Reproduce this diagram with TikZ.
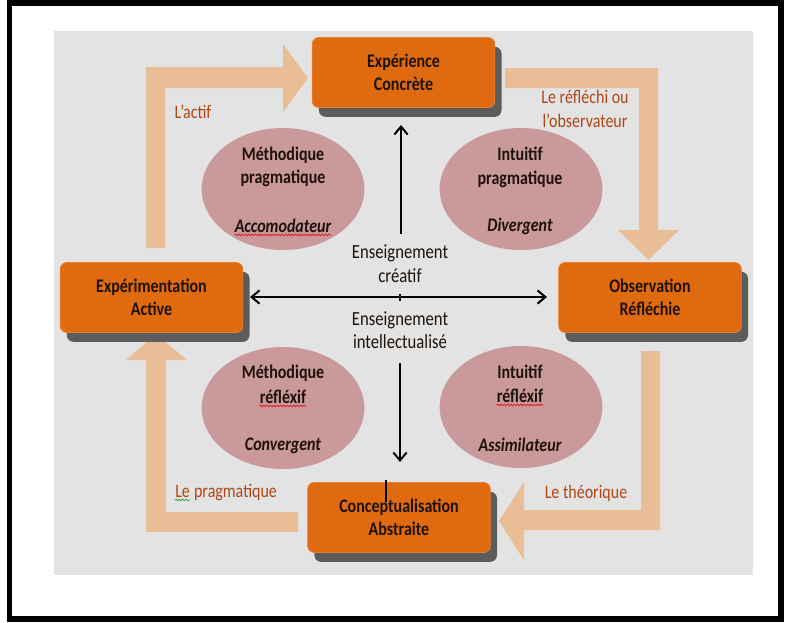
\documentclass[tikz,border=0pt]{standalone}
\usepackage{graphicx}
\usepackage{fontspec}
\setmainfont{Carlito}
\usetikzlibrary{shapes.geometric,arrows.meta,shadows,decorations.pathmorphing}
\definecolor{bggray}{RGB}{227,227,227}
\definecolor{peach}{RGB}{233,189,150}
\definecolor{boxorange}{RGB}{223,106,16}
\definecolor{boxshadow}{RGB}{92,92,92}
\definecolor{ellfill}{RGB}{201,153,155}
\definecolor{lblcol}{RGB}{176,70,20}
\definecolor{txtdark}{RGB}{30,18,10}
\definecolor{wavyr}{RGB}{220,30,30}
\definecolor{wavyg}{RGB}{60,160,60}
\newcommand\vtxt[1]{\scalebox{1}[1.2]{#1}}
\begin{document}
\begin{tikzpicture}[x=0.75pt,y=-0.75pt,
 stagebox/.style={draw=boxorange!85!white, line width=0.6pt, fill=boxorange, rounded corners=5pt,
   minimum width=137pt, minimum height=52.5pt, align=center, inner sep=0pt,
   font=\bfseries\fontsize{12}{17.5}\selectfont, text=txtdark,
   drop shadow={shadow xshift=5pt, shadow yshift=-7pt, fill=boxshadow, opacity=1}},
 styleell/.style={ellipse, fill=ellfill, minimum width=122pt, minimum height=91.5pt, inner sep=0pt},
 etext/.style={font=\bfseries\fontsize{12}{14}\selectfont, text=txtdark, inner sep=0pt, text height=8.5pt, text depth=2.5pt},
 ctext/.style={font=\fontsize{12.5}{14}\selectfont, text=txtdark, inner sep=0pt, text height=8.5pt, text depth=2.5pt},
 lbl/.style={font=\fontsize{12}{14}\selectfont, text=lblcol, inner sep=0pt, text height=8.5pt, text depth=2.5pt},
 blockarrow/.style={fill=peach},
 axisline/.style={line width=1.5pt, draw=black},
 wavyred/.style={draw=wavyr, line width=0.6pt, decorate, decoration={snake, amplitude=0.6pt, segment length=2.5pt}},
 wavygreen/.style={draw=wavyg, line width=0.6pt, decorate, decoration={snake, amplitude=0.6pt, segment length=2.5pt}}
]
\useasboundingbox (0,0) rectangle (791,622);
\fill[white] (0,0) rectangle (791,622);
\fill[bggray] (54,31) rectangle (753,575);

% block arrows
\fill[blockarrow] (146,248) -- (146,67) -- (283,67) -- (283,44) -- (308,78) -- (283,112) -- (283,88) -- (165,88) -- (165,248) -- cycle;
\fill[blockarrow] (505,68) -- (658,68) -- (658,230) -- (679,230) -- (648.5,260) -- (618,230) -- (639,230) -- (639,88) -- (505,88) -- cycle;
\fill[blockarrow] (641,351) -- (660,351) -- (660,530) -- (524,530) -- (524,560) -- (499,521) -- (524,482) -- (524,510) -- (641,510) -- cycle;
\fill[blockarrow] (298,512) -- (298,532) -- (146,532) -- (146,360) -- (126,360) -- (156,334) -- (187,360) -- (166,360) -- (166,512) -- cycle;

% ellipses
\node[styleell] (e1) at (283,189) {};
\node[styleell] (e2) at (521,189) {};
\node[styleell] (e3) at (283,408) {};
\node[styleell] (e4) at (521,407) {};

% stage boxes
\node[stagebox] (ec) at (403.5,72.5) {\vtxt{Expérience}\\\vtxt{Concrète}};
\node[stagebox] (ea) at (151.5,297.5) {\vtxt{Expérimentation}\\\vtxt{Active}};
\node[stagebox] (ob) at (650,297.5) {\vtxt{Observation}\\\vtxt{Réfléchie}};
\node[stagebox] (ca) at (399,517.5) {\vtxt{Conceptualisation}\\\vtxt{Abstraite}};

% axes
\coordinate (hl) at (250,297);
\coordinate (hr) at (547,297);
\coordinate (vt1) at (401,234);
\coordinate (vt2) at (401,125);
\coordinate (vb1) at (400,363);
\coordinate (vb2) at (400,462);
\coordinate (tk1) at (400,294);
\coordinate (tk2) at (400,301);
\coordinate (tb1) at (386,480);
\coordinate (tb2) at (386,502);
\draw[axisline, {Straight Barb[length=6pt,width=10pt]}-{Straight Barb[length=6pt,width=10pt]}] (hl) -- (hr);
\draw[axisline, -{Straight Barb[length=6pt,width=10pt]}] (vt1) -- (vt2);
\draw[axisline, -{Straight Barb[length=6pt,width=10pt]}] (vb1) -- (vb2);
\draw[line width=1pt] (tk1) -- (tk2);
\draw[line width=1.2pt] (tb1) -- (tb2);

% ellipse texts
\node[etext] (t1a) at (283,156) {\vtxt{Méthodique}};
\node[etext] (t1b) at (283,179) {\vtxt{pragmatique}};
\node[etext] (t1c) at (283,228) {\vtxt{\itshape Accomodateur}};
\node[etext] (t2a) at (520,156) {\vtxt{Intuitif}};
\node[etext] (t2b) at (520,180) {\vtxt{pragmatique}};
\node[etext] (t2c) at (520,227) {\vtxt{\itshape Divergent}};
\node[etext] (t3a) at (283,374) {\vtxt{Méthodique}};
\node[etext] (t3b) at (283,399) {\vtxt{réfléxif}};
\node[etext] (t3c) at (283,446) {\vtxt{\itshape Convergent}};
\node[etext] (t4a) at (520,374) {\vtxt{Intuitif}};
\node[etext] (t4b) at (520,398) {\vtxt{réfléxif}};
\node[etext] (t4c) at (520,447) {\vtxt{\itshape Assimilateur}};
\draw[wavyred] ([yshift=-2.2pt]t1c.base west) -- ([yshift=-2.2pt]t1c.base east);
\draw[wavyred] ([yshift=-2.2pt]t3b.base west) -- ([yshift=-2.2pt]t3b.base east);
\draw[wavyred] ([yshift=-2.2pt]t4b.base west) -- ([yshift=-2.2pt]t4b.base east);

% centre texts
\node[ctext] (c1) at (400,254) {\vtxt{Enseignement}};
\node[ctext] (c2) at (400,278) {\vtxt{créatif}};
\node[ctext] (c3) at (400,321) {\vtxt{Enseignement}};
\node[ctext] (c4) at (400,344) {\vtxt{intellectualisé}};

% labels
\node[lbl] (l1) at (193,114) {\vtxt{L’actif}};
\node[lbl] (l2a) at (585,99) {\vtxt{Le réfléchi ou}};
\node[lbl] (l2b) at (585,123) {\vtxt{l’observateur}};
\node[lbl, anchor=west] (l3a) at (175,493) {\vtxt{Le}};
\node[lbl, anchor=west] (l3b) at ([xshift=2.7pt]l3a.east) {\vtxt{pragmatique}};
\draw[wavygreen] ([yshift=-2.2pt]l3a.base west) -- ([yshift=-2.2pt]l3a.base east);
\node[lbl] (l4) at (586,494) {\vtxt{Le théorique}};

% frame
\draw[line width=4pt] (9.5,3) rectangle (781,619);
\end{tikzpicture}
\end{document}
